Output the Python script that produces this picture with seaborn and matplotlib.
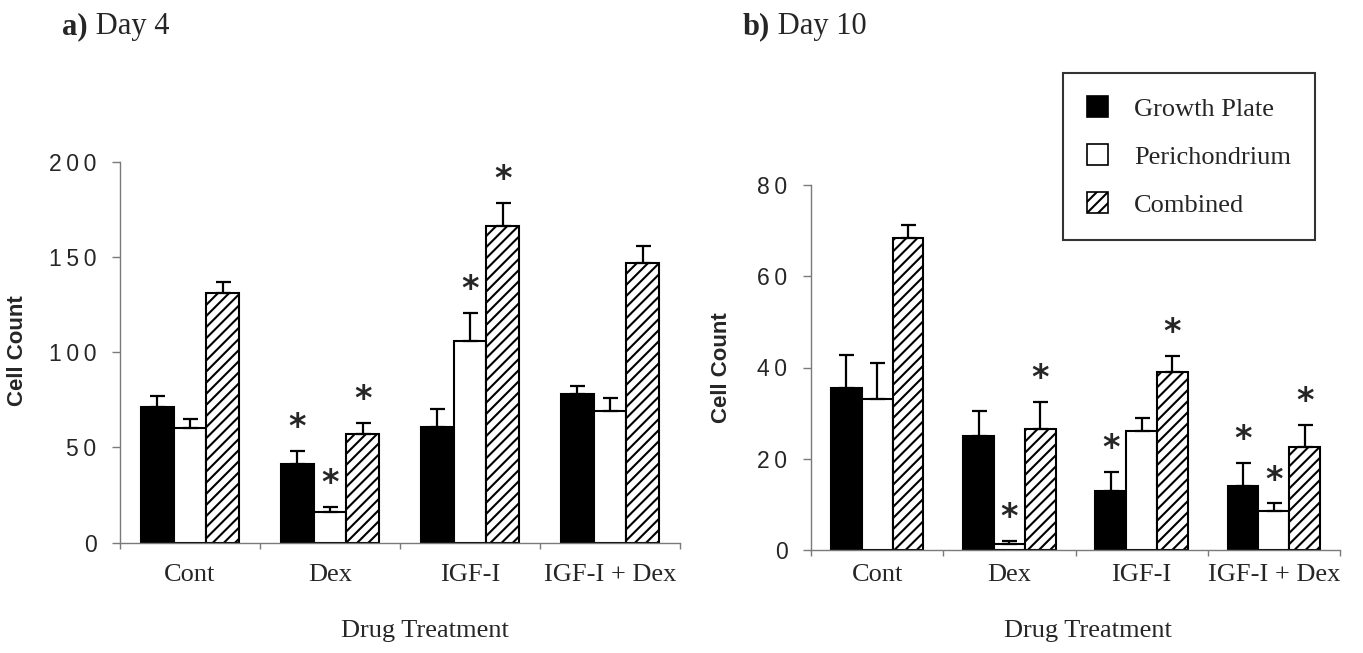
import numpy as np
import pandas as pd
import matplotlib
matplotlib.use("Agg")
import matplotlib.pyplot as plt
from matplotlib.patches import Patch
import seaborn as sns

# ---- data -------------------------------------------------------------
treatments = ["Cont", "Dex", "IGF-I", "IGF-I + Dex"]
regions = ["Growth Plate", "Perichondrium", "Combined"]

# Day 4 cell counts (mean) and upper error (SEM)
day4_growth = [71, 41.5, 60.5, 78]
day4_growth_err = [6, 6.5, 9.5, 4.5]
day4_peri = [60, 16, 106, 69]
day4_peri_err = [5, 3, 14.5, 7]
day4_comb = [131, 57, 166, 147]
day4_comb_err = [6, 6, 12.5, 9]
day4_growth_sig = [False, True, False, False]
day4_peri_sig = [False, True, True, False]
day4_comb_sig = [False, True, True, False]

# Day 10 cell counts (mean) and upper error (SEM)
day10_growth = [35.5, 25, 13, 14]
day10_growth_err = [7.3, 5.5, 4, 5]
day10_peri = [33, 1.3, 26, 8.5]
day10_peri_err = [8, 0.6, 3, 1.7]
day10_comb = [68.3, 26.5, 39, 22.6]
day10_comb_err = [3, 6, 3.5, 4.8]
day10_growth_sig = [False, False, True, True]
day10_peri_sig = [False, True, False, True]
day10_comb_sig = [False, True, True, True]

day4_ticks = [0, 50, 100, 150, 200]
day10_ticks = [0, 20, 40, 60, 80]


def long_frame(series):
    rows = []
    for region, (vals, errs, sigs) in zip(regions, series):
        for t, v, e, s in zip(treatments, vals, errs, sigs):
            rows.append({"Treatment": t, "Region": region,
                         "Count": v, "Err": e, "Sig": s})
    return pd.DataFrame(rows)


day4 = long_frame([(day4_growth, day4_growth_err, day4_growth_sig),
                   (day4_peri, day4_peri_err, day4_peri_sig),
                   (day4_comb, day4_comb_err, day4_comb_sig)])
day10 = long_frame([(day10_growth, day10_growth_err, day10_growth_sig),
                    (day10_peri, day10_peri_err, day10_peri_sig),
                    (day10_comb, day10_comb_err, day10_comb_sig)])

# ---- style ------------------------------------------------------------
sns.set_theme(style="white")
plt.rcParams["font.family"] = ["Liberation Serif", "DejaVu Serif"]
plt.rcParams["hatch.linewidth"] = 1.5

fill = {"Growth Plate": "black", "Perichondrium": "white", "Combined": "white"}
hatches = {"Growth Plate": "", "Perichondrium": "", "Combined": "///"}
axis_grey = "#7a7a7a"
SERIF = 19
SANS = ["Liberation Sans", "DejaVu Sans"]

W, H = 1363, 653
fig = plt.figure(figsize=(W / 100, H / 100), dpi=100)


def px_axes(x0, y0, x1, y1):
    return fig.add_axes([x0 / W, 1 - y1 / H, (x1 - x0) / W, (y1 - y0) / H])


ax4 = px_axes(120, 161.7, 680, 542.7)
ax10 = px_axes(811, 185, 1340, 550)


def draw(ax, df, ticks, tick_pad, xlabel_xy, ylabel_xy):
    sns.barplot(data=df, x="Treatment", y="Count", hue="Region",
                order=treatments, hue_order=regions, palette=fill,
                saturation=1, edgecolor="black", linewidth=1.5, width=0.7,
                errorbar=None, legend=False, ax=ax)
    for region, cont in zip(regions, ax.containers):
        sub = df[df.Region == region].set_index("Treatment").loc[treatments]
        xs = np.array([b.get_x() + b.get_width() / 2 for b in cont])
        for b in cont:
            b.set_hatch(hatches[region])
        ax.errorbar(xs, sub.Count.values,
                    yerr=[np.zeros(len(xs)), sub.Err.values],
                    fmt="none", ecolor="black", elinewidth=1.6,
                    capsize=5.4, capthick=1.6)
        tops = sub.Count.values + sub.Err.values
        for x, top, s in zip(xs, tops, sub.Sig.values):
            if s:
                ax.annotate("*", xy=(x, top), xytext=(0, 5),
                            textcoords="offset points", ha="center",
                            va="bottom", fontsize=24, fontweight="bold",
                            family=["DejaVu Sans"])

    ax.set_xlim(-0.5, len(treatments) - 0.5)
    ax.set_ylim(ticks[0], ticks[-1])
    ax.set_yticks(ticks)
    ax.set_yticklabels(["\u2009".join(str(t)) for t in ticks],
                       family=SANS, fontsize=16.5)
    ax.set_xticks(range(len(treatments)))
    ax.set_xticklabels(treatments, fontsize=SERIF)
    ax.set_xticks(np.arange(-0.5, len(treatments)), minor=True)
    ax.tick_params(axis="x", which="major", length=0, pad=tick_pad)
    ax.tick_params(axis="x", which="minor", length=4, width=1,
                   color=axis_grey, direction="out", bottom=True)
    ax.tick_params(axis="y", which="major", length=6, width=1,
                   color=axis_grey, direction="out", left=True, pad=11)
    for side in ("top", "right"):
        ax.spines[side].set_visible(False)
    for side in ("left", "bottom"):
        ax.spines[side].set_color(axis_grey)
        ax.spines[side].set_linewidth(1.0)

    ax.set_xlabel("Drug Treatment", fontsize=SERIF)
    ax.xaxis.set_label_coords(*xlabel_xy)
    ax.set_ylabel("Cell Count", family=SANS, fontsize=16, fontweight="bold")
    ax.yaxis.set_label_coords(*ylabel_xy)


draw(ax4, day4, day4_ticks, 15, (0.545, -0.203), (-0.164, 0.503))
draw(ax10, day10, day10_ticks, 10, (0.524, -0.192), (-0.149, 0.50))

# ---- panel titles -----------------------------------------------------
for x, letter, name in [(62, "a)", "Day 4"), (743, "b)", "Day 10")]:
    t = fig.text(x / W, 1 - 34 / H, letter, fontsize=22, fontweight="bold",
                 ha="left", va="baseline")
    ax4.annotate(" " + name, xy=(1, 0), xycoords=t, fontsize=22,
                 ha="left", va="bottom", annotation_clip=False)

# ---- legend -----------------------------------------------------------
handles = [Patch(facecolor=fill[r], edgecolor="black", hatch=hatches[r],
                 linewidth=1.2) for r in regions]
leg = ax10.legend(handles, regions, loc="upper left",
                  bbox_to_anchor=(1063 / W, 1 - 72.7 / H),
                  bbox_transform=fig.transFigure, frameon=True,
                  fancybox=False, edgecolor="black", fontsize=SERIF,
                  handlelength=0.8, handleheight=0.8, handletextpad=1.0,
                  labelspacing=0.9, borderpad=0.9, borderaxespad=0)
leg.get_frame().set_linewidth(1.5)

fig.savefig("out.png", dpi=100, facecolor="white")
